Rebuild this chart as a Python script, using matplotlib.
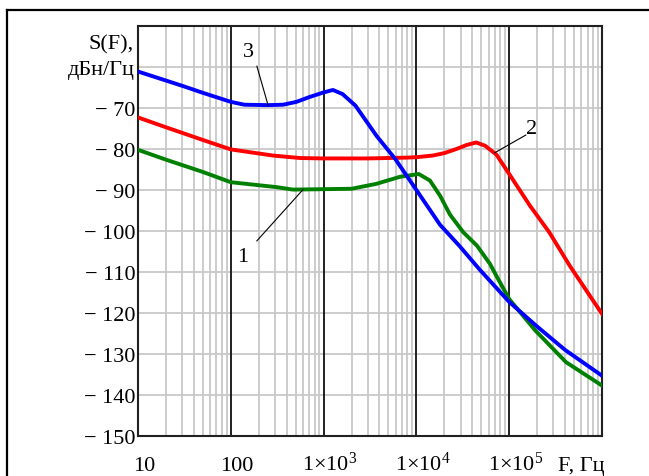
import numpy as np
import matplotlib
matplotlib.use('Agg')
import matplotlib.pyplot as plt
from matplotlib.lines import Line2D
from matplotlib.transforms import ScaledTranslation

plt.rcParams['font.family'] = ['Liberation Serif', 'DejaVu Serif']
plt.rcParams['mathtext.default'] = 'regular'

# curve 3 (blue)
f_blue = [10, 20, 31, 50, 100, 140, 250, 366, 510, 710, 1000, 1260, 1600, 2200,
          3720, 5900, 1e4, 1.8e4, 2.9e4, 4.8e4, 1e5, 2e5, 4e5, 1e6]
s_blue = [-61.1, -63.3, -64.7, -66.3, -68.5, -69.2, -69.3, -69.2, -68.5, -67.3,
          -66.2, -65.6, -66.6, -69.4, -76.8, -82.4, -90.0, -98.5, -103.6, -109.4,
          -117.3, -123.3, -129.0, -135.3]

# curve 2 (red)
f_red = [10, 20, 50, 100, 285, 556, 1000, 3000, 8000, 1e4, 1.5e4, 2e4, 2.7e4,
         3.5e4, 4.4e4, 5.5e4, 7.3e4, 1e5, 1.67e5, 2.7e5, 4.5e5, 7.4e5, 1e6]
s_red = [-72.3, -74.7, -77.8, -80.1, -81.6, -82.2, -82.3, -82.3, -82.1, -82.0,
         -81.6, -81.0, -80.0, -79.0, -78.4, -79.2, -81.4, -86.1, -93.8, -100.3,
         -108.5, -115.8, -120.2]

# curve 1 (green)
f_green = [10, 20, 50, 100, 311, 466, 1000, 2000, 3700, 6600, 1.06e4, 1.4e4,
           1.8e4, 2.3e4, 3.2e4, 4.5e4, 6.2e4, 7.3e4, 1e5, 1.9e5, 4.1e5, 1e6]
s_green = [-80.2, -82.6, -85.6, -88.1, -89.3, -89.9, -89.8, -89.7, -88.5, -86.8,
           -86.1, -87.7, -91.4, -96.0, -100.3, -103.6, -108.0, -111.0, -116.6,
           -124.2, -132.0, -137.7]

xticks = [10, 100, 1e3, 1e4, 1e5, 1e6]
xticklabels = ['10', '100', '1×10$^{3}$', '1×10$^{4}$', '1×10$^{5}$', 'F, Гц']
yticks = list(range(-150, -40, 10))
yticklabels = ['− %d' % abs(v) for v in yticks if v <= -70] + ['дБн/Гц', '']

fig = plt.figure(figsize=(6.49, 4.77), dpi=100)
ax = fig.add_axes([138/649, 1-437/477, 464/649, 410/477])

ax.set_xscale('log')
ax.set_xlim(10, 1e6)
ax.set_ylim(-150, -50)

# grid
for dec in [10, 100, 1e3, 1e4, 1e5]:
    for k in range(2, 10):
        ax.axvline(dec*k, color='#c8c8c8', lw=1.3, zorder=1)
for v in yticks:
    ax.axhline(v, color='#c8c8c8', lw=1.3, zorder=1)
for d in xticks[1:-1]:
    ax.axvline(d, color='#202020', lw=1.4, zorder=2)

ax.plot(f_green, s_green, color='#008000', lw=2.8, zorder=3)
ax.plot(f_red, s_red, color='#ff0000', lw=2.8, zorder=3)
ax.plot(f_blue, s_blue, color='#0000ff', lw=2.8, zorder=4)

ax.minorticks_off()
ax.set_xticks(xticks)
ax.set_xticklabels(xticklabels)
ax.set_yticks(yticks)
ax.set_yticklabels(yticklabels)
ax.tick_params(length=0, labelsize=16)
ax.tick_params(axis='y', pad=2)
ax.tick_params(axis='x', pad=24.5)
for i, lbl in enumerate(ax.get_xticklabels()):
    lbl.set_va('baseline')
    dx = 0.06 if i < len(xticks) - 1 else -0.21
    lbl.set_transform(lbl.get_transform() + ScaledTranslation(dx, 0, fig.dpi_scale_trans))

for sp in ax.spines.values():
    sp.set_linewidth(1.5)
    sp.set_color('#202020')

ax.text(-0.009, -54.4, 'S(F),', transform=ax.get_yaxis_transform(),
        ha='right', va='center', fontsize=16)

# curve labels with leader lines
ax.plot([191, 252], [-59.8, -69.3], color='black', lw=0.8, zorder=5)
ax.text(153, -56.3, '3', fontsize=16, ha='center', va='center')
ax.plot([600, 191], [-89.9, -102.4], color='black', lw=0.8, zorder=5)
ax.text(135, -106.3, '1', fontsize=16, ha='center', va='center')
ax.plot([7.0e4, 1.51e5], [-80.9, -76.6], color='black', lw=0.8, zorder=5)
ax.text(1.76e5, -75.1, '2', fontsize=16, ha='center', va='center')

# outer frame
fig.add_artist(Line2D([7/649, 7/649], [0, 1-11/477], color='black', lw=1.6))
fig.add_artist(Line2D([7/649, 1], [1-11/477, 1-11/477], color='black', lw=1.6))

fig.savefig('out.png', dpi=100)
